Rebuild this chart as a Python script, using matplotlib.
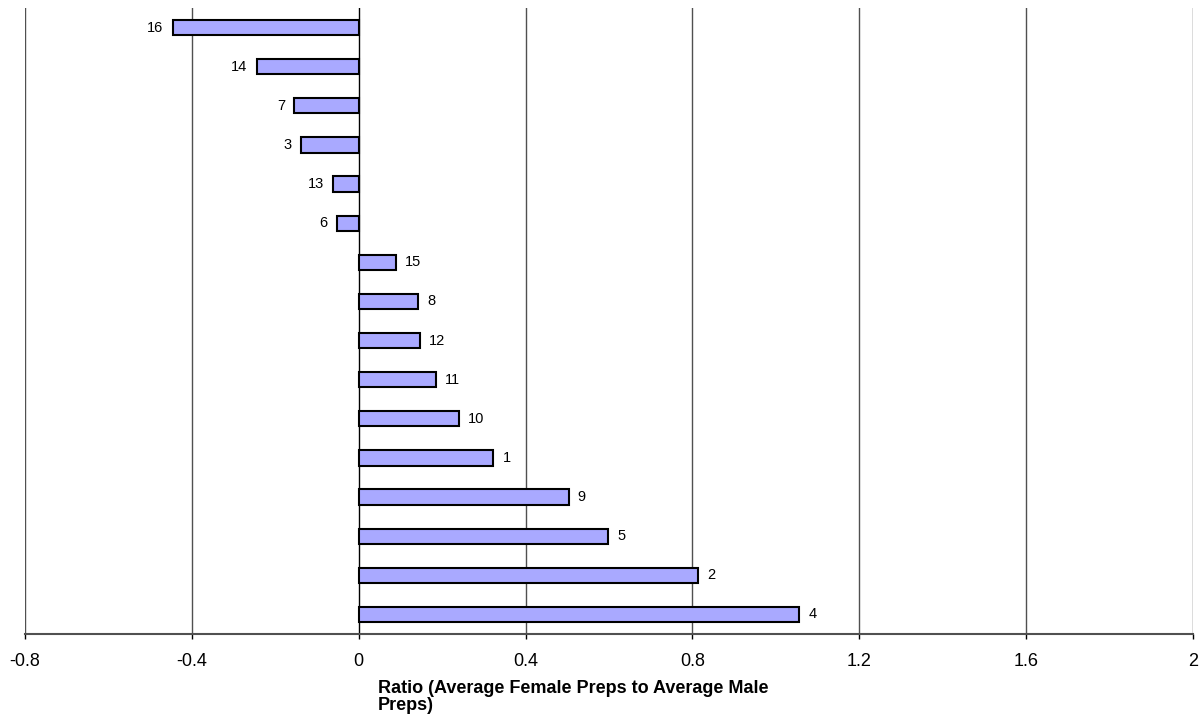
import matplotlib
matplotlib.use('Agg')
import matplotlib.pyplot as plt

matplotlib.rcParams['font.family'] = ['Liberation Sans', 'DejaVu Sans']

# bar labels, top to bottom, with their ratio values
labels = ['16', '14', '7', '3', '13', '6', '15', '8', '12', '11', '10', '1', '9', '5', '2', '4']
ratios = [-0.446, -0.245, -0.154, -0.138, -0.062, -0.052, 0.089, 0.142, 0.147, 0.185,
          0.240, 0.323, 0.503, 0.598, 0.813, 1.056]
xticks = [-0.8, -0.4, 0, 0.4, 0.8, 1.2, 1.6, 2]
xticklabels = ['-0.8', '-0.4', '0', '0.4', '0.8', '1.2', '1.6', '2']

W, H = 1201, 716
fig = plt.figure(figsize=(W / 100, H / 100), dpi=100)
fig.patch.set_facecolor('white')
ax = fig.add_axes([25 / W, (H - 634) / H, (1193 - 25) / W, (634 - 8) / H])

ypos = list(range(len(labels)))
ax.barh(ypos, ratios, height=0.39, color='#A9A9FF', edgecolor='black', linewidth=1.5, zorder=3)

for y, v, lab in zip(ypos, ratios, labels):
    if v < 0:
        ax.text(v - 0.022, y, lab, ha='right', va='center', fontsize=10.5, color='black')
    else:
        ax.text(v + 0.022, y, lab, ha='left', va='center', fontsize=10.5, color='black')

ax.set_xlim(-0.8, 2)
ax.set_ylim(len(labels) - 0.5, -0.5)
ax.set_yticks([])
ax.set_xticks(xticks)
ax.set_xticklabels(xticklabels, fontsize=13)
ax.tick_params(axis='x', direction='out', length=3.6, width=1, pad=10, color='black')

# vertical gridlines and zero axis
for t in xticks:
    ax.axvline(t, color='#505050' if t != 0 else 'black', linewidth=1.0, zorder=1)

for side in ['top', 'right', 'left']:
    ax.spines[side].set_visible(False)
ax.spines['bottom'].set_color('#505050')
ax.spines['bottom'].set_linewidth(1.5)

# axis title, wrapped onto two left-aligned lines
fig.text(378 / W, 1 - 680 / H, 'Ratio (Average Female Preps to Average Male\nPreps)',
         ha='left', va='top', fontsize=13, fontweight='bold', linespacing=1.0)

fig.savefig('out.png', dpi=100, facecolor='white')
